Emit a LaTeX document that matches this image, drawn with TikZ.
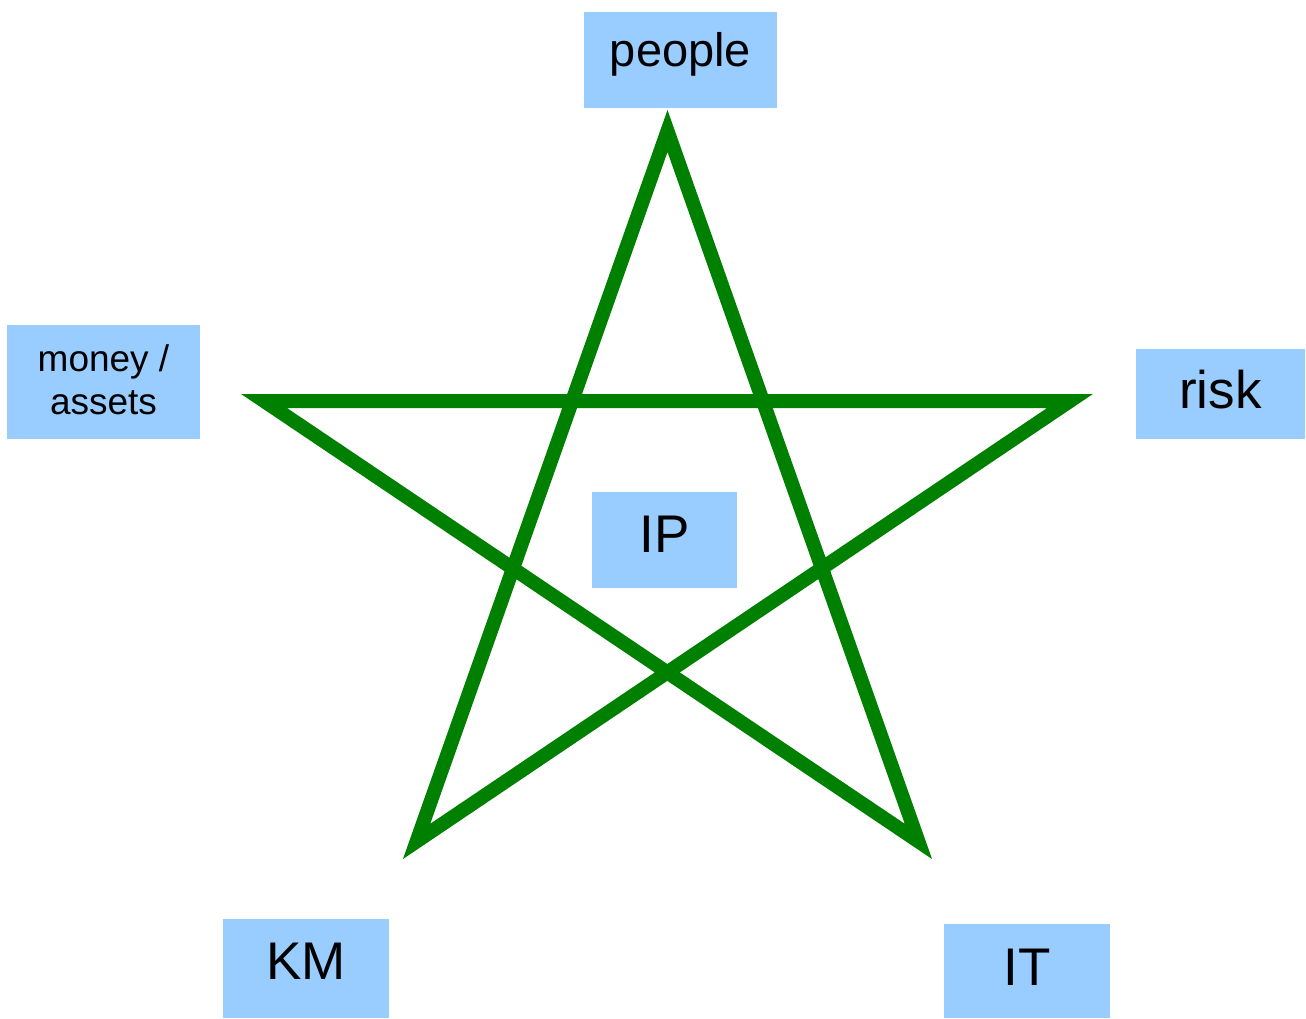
\documentclass[tikz,border=0pt]{standalone}
\usepackage{fontspec}
\setmainfont{Liberation Sans}
\definecolor{boxblue}{RGB}{153,204,255}
\definecolor{stargreen}{RGB}{0,128,0}
\begin{document}
\begin{tikzpicture}[x=1pt,y=-1pt,
  box/.style={fill=boxblue, inner sep=0pt, text depth=0pt},
  starline/.style={draw=stargreen, line width=14pt, line join=miter, miter limit=10}]
\useasboundingbox (0,0) rectangle (1306,1019);
\fill[white] (0,0) rectangle (1306,1019);
% star
\coordinate (T) at (667.5,131);
\coordinate (BL) at (416.6,841.4);
\coordinate (BR) at (918.4,841.4);
\coordinate (L) at (264,401);
\coordinate (R) at (1070,401);
\draw[starline] (T) -- (BL) -- (R) -- (L) -- (BR) -- cycle;
% boxes
\node[box, minimum width=193pt, minimum height=96pt, text height=14pt,
  font=\fontsize{47pt}{56pt}\selectfont] (people) at (680.5,60) {people};
\node[box, minimum width=193pt, minimum height=114pt, align=center, text depth=5pt,
  font=\fontsize{37pt}{43pt}\selectfont] (money) at (103.5,382) {money /\\assets};
\node[box, minimum width=169pt, minimum height=90pt, text height=28pt,
  font=\fontsize{53pt}{63pt}\selectfont] (risk) at (1220.5,394) {risk};
\node[box, minimum width=145pt, minimum height=96pt, text height=24pt,
  font=\fontsize{53pt}{63pt}\selectfont] (ip) at (664.5,540) {IP};
\node[box, minimum width=166pt, minimum height=99pt, text height=21pt,
  font=\fontsize{53pt}{63pt}\selectfont] (km) at (306,968.5) {KM};
\node[box, minimum width=166pt, minimum height=94pt, text height=28pt,
  font=\fontsize{53pt}{63pt}\selectfont] (it) at (1027,971) {IT};
\end{tikzpicture}
\end{document}
